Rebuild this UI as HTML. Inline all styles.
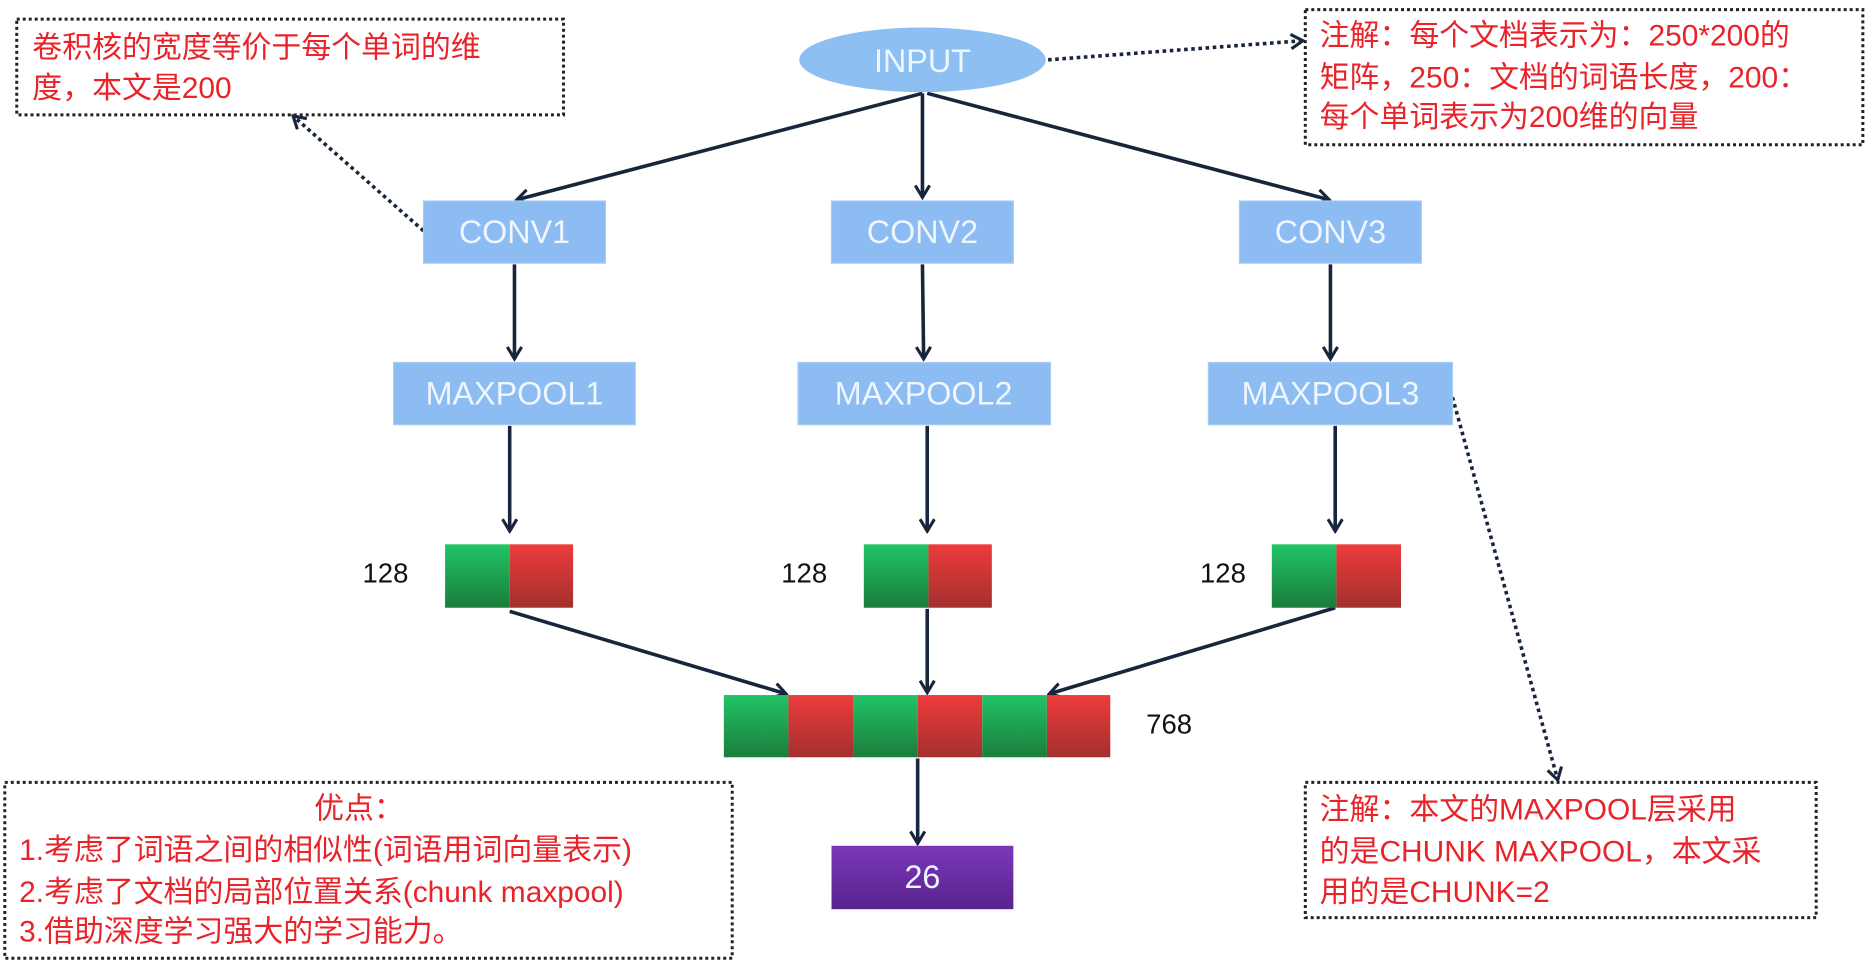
<!DOCTYPE html>
<html><head><meta charset="utf-8"><style>
html,body{margin:0;padding:0;background:#fff;}
svg{display:block;}
text{font-family:"Liberation Sans","Noto Sans CJK SC",sans-serif;}
.cn{font-family:"Liberation Sans","Noto Sans CJK SC",sans-serif;font-size:25px;fill:#e8232a;}
.bt{font-family:"Liberation Sans",sans-serif;font-size:27px;fill:#eef6ff;text-anchor:middle;dominant-baseline:central;}
</style></head><body>
<svg width="1876" height="975" viewBox="0 0 1568 815" preserveAspectRatio="none">
<defs>
<marker id="a" viewBox="0 0 14 14" refX="12" refY="7" markerWidth="14" markerHeight="14" markerUnits="userSpaceOnUse" orient="auto">
<polyline points="2,1 12,7 2,13" fill="none" stroke="#17263d" stroke-width="2.6"/></marker>
<linearGradient id="g" x1="0" y1="0" x2="0" y2="1"><stop offset="0" stop-color="#22c466"/><stop offset="1" stop-color="#1a7d3c"/></linearGradient>
<linearGradient id="r" x1="0" y1="0" x2="0" y2="1"><stop offset="0" stop-color="#ee3b3b"/><stop offset="1" stop-color="#a3302e"/></linearGradient>
<linearGradient id="p" x1="0" y1="0" x2="0" y2="1"><stop offset="0" stop-color="#7a38b8"/><stop offset="1" stop-color="#5a2290"/></linearGradient>
</defs>
<g fill="none" stroke="#17263d" stroke-width="3" marker-end="url(#a)">
<line x1="771" y1="78" x2="432" y2="167"/>
<line x1="771" y1="78" x2="771" y2="165"/>
<line x1="775" y1="78" x2="1111" y2="167"/>
<line x1="430" y1="221" x2="430" y2="300"/>
<line x1="771" y1="221" x2="772" y2="300"/>
<line x1="1112" y1="221" x2="1112" y2="300"/>
<line x1="426" y1="356" x2="426" y2="444"/>
<line x1="775" y1="356" x2="775" y2="444"/>
<line x1="1116" y1="356" x2="1116" y2="444"/>
<line x1="426" y1="511" x2="657" y2="580"/>
<line x1="775" y1="509" x2="775" y2="579"/>
<line x1="1116" y1="508" x2="877" y2="580"/>
<line x1="767" y1="634" x2="767" y2="705"/>
</g>
<g fill="none" stroke="#17263d" stroke-width="3" stroke-dasharray="3,3" marker-end="url(#a)">
<line x1="876" y1="50" x2="1089" y2="34"/>
<line x1="354" y1="193" x2="245" y2="97"/>
<line x1="1214" y1="332" x2="1302" y2="652"/>
</g>
<ellipse cx="771" cy="50" rx="103" ry="27" fill="#8dbff3"/>
<text class="bt" x="771" y="51">INPUT</text>
<g fill="#8cbcf2" stroke="#a6ccf5" stroke-width="1">
<rect x="354" y="168" width="152" height="52"/><rect x="695" y="168" width="152" height="52"/><rect x="1036" y="168" width="152" height="52"/>
<rect x="329" y="303" width="202" height="52"/><rect x="667" y="303" width="211" height="52"/><rect x="1010" y="303" width="204" height="52"/>
</g>
<text class="bt" x="430" y="194">CONV1</text><text class="bt" x="771" y="194">CONV2</text><text class="bt" x="1112" y="194">CONV3</text>
<text class="bt" x="430" y="329">MAXPOOL1</text><text class="bt" x="772" y="329">MAXPOOL2</text><text class="bt" x="1112" y="329">MAXPOOL3</text>
<rect x="372" y="455" width="54" height="53" fill="url(#g)"/><rect x="426" y="455" width="53" height="53" fill="url(#r)"/>
<rect x="722" y="455" width="54" height="53" fill="url(#g)"/><rect x="776" y="455" width="53" height="53" fill="url(#r)"/>
<rect x="1063" y="455" width="54" height="53" fill="url(#g)"/><rect x="1117" y="455" width="54" height="53" fill="url(#r)"/>
<rect x="605" y="581" width="54" height="52" fill="url(#g)"/><rect x="659" y="581" width="54" height="52" fill="url(#r)"/>
<rect x="713" y="581" width="54" height="52" fill="url(#g)"/><rect x="767" y="581" width="54" height="52" fill="url(#r)"/>
<rect x="821" y="581" width="54" height="52" fill="url(#g)"/><rect x="875" y="581" width="53" height="52" fill="url(#r)"/>
<g font-size="23" fill="#111" dominant-baseline="central">
<text x="303" y="479">128</text><text x="653" y="479">128</text><text x="1003" y="479">128</text><text x="958" y="605">768</text>
</g>
<rect x="695" y="707" width="152" height="53" fill="url(#p)"/>
<text class="bt" x="771" y="733">26</text>
<g fill="none" stroke="#222" stroke-width="2.5" stroke-dasharray="2.5,2.5">
<rect x="14" y="16" width="457" height="80"/>
<rect x="1091" y="8" width="466" height="113"/>
<rect x="4" y="654" width="608" height="147"/>
<rect x="1091" y="654" width="427" height="113"/>
</g>
<text class="cn" x="27" y="48">卷积核的宽度等价于每个单词的维</text>
<text class="cn" x="27" y="82">度，本文是200</text>
<text class="cn" x="1103" y="38">注解：每个文档表示为：250*200的</text>
<text class="cn" x="1103" y="73">矩阵，250：文档的词语长度，200：</text>
<text class="cn" x="1103" y="106">每个单词表示为200维的向量</text>
<text class="cn" x="300" y="684" text-anchor="middle">优点：</text>
<text class="cn" x="16" y="719">1.考虑了词语之间的相似性(词语用词向量表示)</text>
<text class="cn" x="16" y="754">2.考虑了文档的局部位置关系(chunk maxpool)</text>
<text class="cn" x="16" y="787">3.借助深度学习强大的学习能力。</text>
<text class="cn" x="1103" y="685">注解：本文的MAXPOOL层采用</text>
<text class="cn" x="1103" y="720">的是CHUNK MAXPOOL，本文采</text>
<text class="cn" x="1103" y="754">用的是CHUNK=2</text>
</svg>
</body></html>
